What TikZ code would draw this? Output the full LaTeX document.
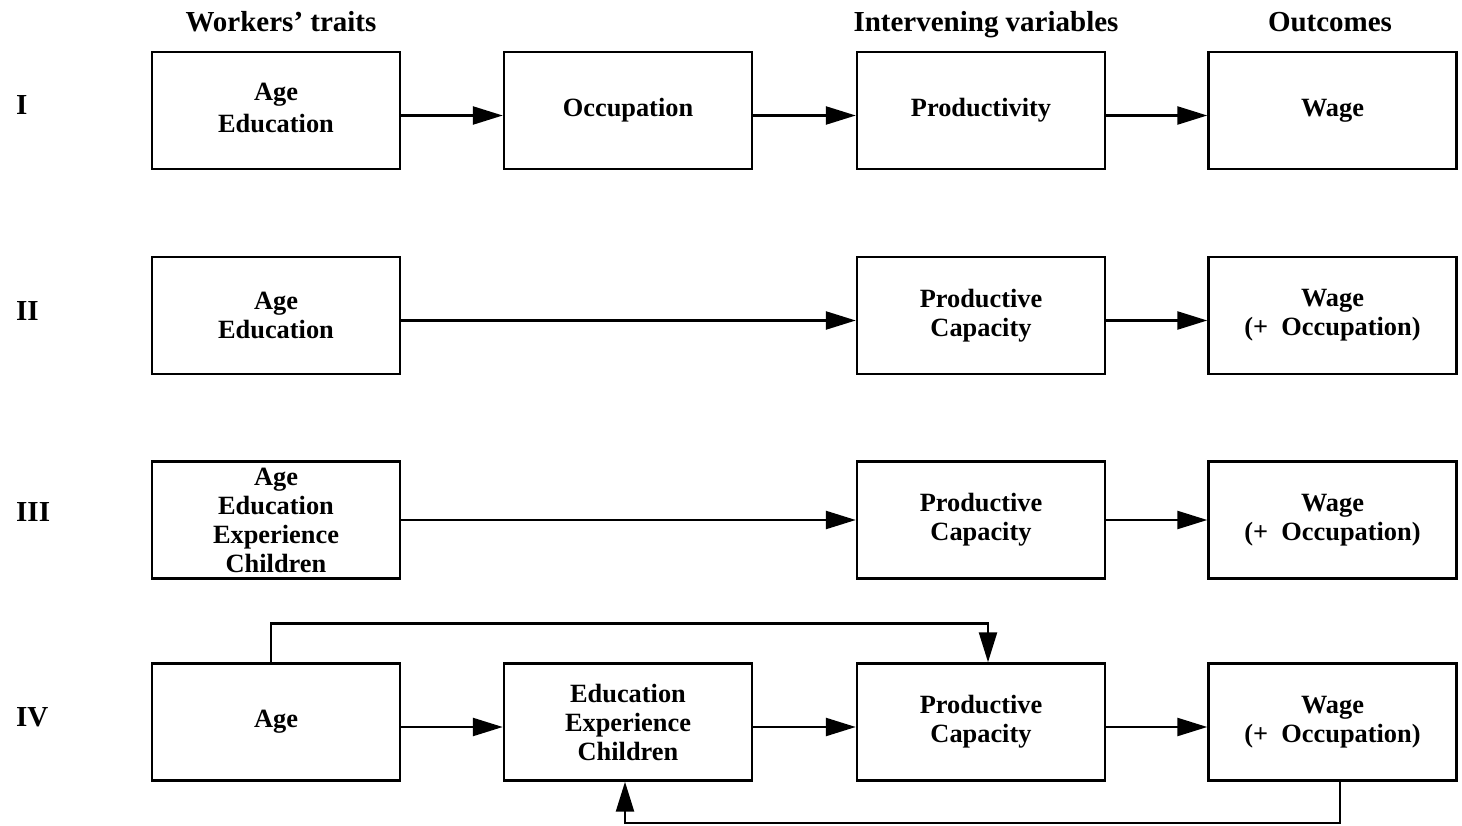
\documentclass[tikz,border=0pt]{standalone}
\usepackage{fontspec}
\setmainfont{Liberation Serif}
\usepackage{tikz}
\usetikzlibrary{arrows.meta,positioning,calc}

\begin{document}
\begin{tikzpicture}[
    stagebox/.style={draw, line width=1.4pt, minimum width=4.96cm, minimum height=2.34cm,
        inner sep=0pt, align=center, font=\bfseries\fontsize{15}{16.5}\selectfont},
    flow/.style={line width=1.4pt, -{Triangle[length=6mm,width=3.6mm]}},
    colhead/.style={anchor=base, font=\bfseries\fontsize{16.5}{18}\selectfont},
    rowlabel/.style={anchor=west, font=\bfseries\fontsize{16.5}{18}\selectfont}]
    \useasboundingbox (0,0) rectangle (29.24,16.5);
    % column headings
    \node[colhead] (hw) at (5.62,15.86) {Workers' traits};
    \node[colhead] (hi) at (19.72,15.86) {Intervening variables};
    \node[colhead] (ho) at (26.6,15.86) {Outcomes};
    % row labels
    \node[rowlabel] (r1) at (0.2,14.39) {I};
    \node[rowlabel] (r2) at (0.2,10.28) {II};
    \node[rowlabel] (r3) at (0.2,6.26) {III};
    \node[rowlabel] (r4) at (0.2,2.16) {IV};
    % row I
    \node[stagebox] (ae1) at (5.52,14.29) {\raisebox{3pt}{\shortstack{Age\\[1pt]Education}}};
    \node[stagebox] (oc1) at (12.56,14.29) {Occupation};
    \node[stagebox] (pr1) at (19.62,14.29) {Productivity};
    \node[stagebox] (wg1) at (26.65,14.29) {Wage};
    \draw[flow] ([yshift=-1mm]ae1.east) -- ([yshift=-1mm]oc1.west);
    \draw[flow] ([yshift=-1mm]oc1.east) -- ([yshift=-1mm]pr1.west);
    \draw[flow] ([yshift=-1mm]pr1.east) -- ([yshift=-1mm]wg1.west);
    % row II
    \node[stagebox] (ae2) at (5.52,10.19) {Age\\Education};
    \node[stagebox] (pc2) at (19.62,10.19) {Productive\\Capacity};
    \node[stagebox] (wg2) at (26.65,10.19) {Wage\\(+\ \ Occupation)};
    \draw[flow] ([yshift=-1mm]ae2.east) -- ([yshift=-1mm]pc2.west);
    \draw[flow] ([yshift=-1mm]pc2.east) -- ([yshift=-1mm]wg2.west);
    % row III
    \node[stagebox] (ae3) at (5.52,6.10) {Age\\Education\\Experience\\Children};
    \node[stagebox] (pc3) at (19.62,6.10) {Productive\\Capacity};
    \node[stagebox] (wg3) at (26.65,6.10) {Wage\\(+\ \ Occupation)};
    \draw[flow] (ae3) -- (pc3);
    \draw[flow] (pc3) -- (wg3);
    % row IV
    \node[stagebox] (ag4) at (5.52,2.06) {Age};
    \node[stagebox] (ex4) at (12.56,2.06) {Education\\Experience\\Children};
    \node[stagebox] (pc4) at (19.62,2.06) {Productive\\Capacity};
    \node[stagebox] (wg4) at (26.65,2.06) {Wage\\(+\ \ Occupation)};
    \draw[flow] ([yshift=-1mm]ag4.east) -- ([yshift=-1mm]ex4.west);
    \draw[flow] ([yshift=-1mm]ex4.east) -- ([yshift=-1mm]pc4.west);
    \draw[flow] ([yshift=-1mm]pc4.east) -- ([yshift=-1mm]wg4.west);
    \draw[flow] ([xshift=-0.1cm]ag4.north) -- ++(0,0.78) -| ([xshift=0.14cm]pc4.north);
    \draw[flow] ([xshift=0.15cm]wg4.south) -- ++(0,-0.82) -| ([xshift=-0.06cm]ex4.south);
\end{tikzpicture}
\end{document}
